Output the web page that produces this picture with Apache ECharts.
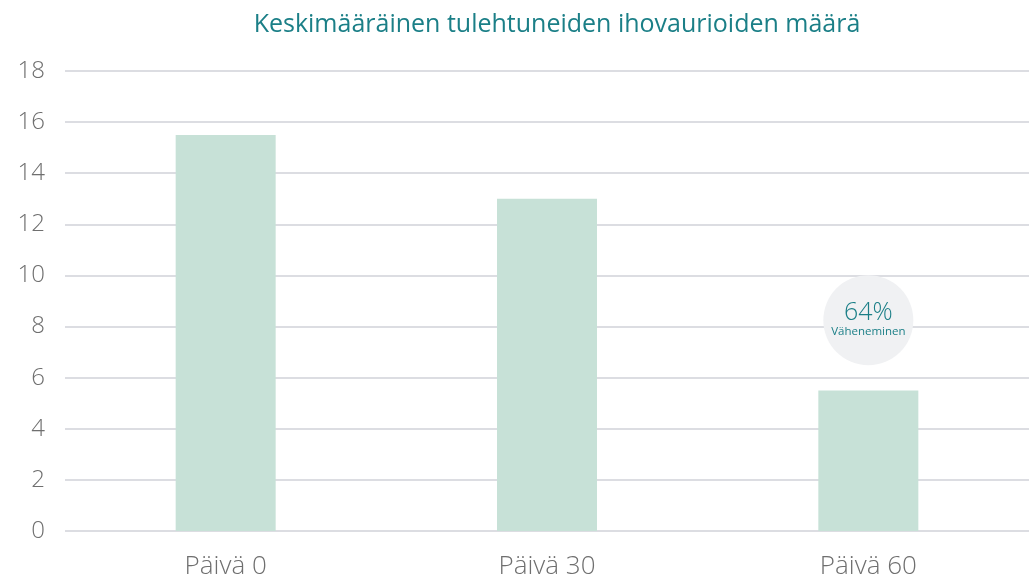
<!DOCTYPE html>
<html>
<head>
<meta charset="utf-8">
<script src="https://cdn.jsdelivr.net/npm/echarts@6/dist/echarts.min.js"></script>
<style>html,body{margin:0;padding:0;background:#fff;}#c{width:1029px;height:583px;}</style>
</head>
<body>
<div id="c"></div>
<script>
const categories = ['Päivä 0', 'Päivä 30', 'Päivä 60'];
const values = [15.5, 13, 5.5];
const yTicks = { min: 0, max: 18, interval: 2 };
const titleText = 'Keskimääräinen tulehtuneiden ihovaurioiden määrä';
const badgeMain = '64%';
const badgeSub = 'Väheneminen';
const badgeY = 8.25;

const chart = echarts.init(document.getElementById('c'), null, { renderer: 'canvas' });
const font = '"Open Sans", "Noto Sans", sans-serif';
chart.setOption({
  animation: false,
  backgroundColor: '#ffffff',
  title: {
    text: titleText,
    left: 552,
    top: 7,
    textAlign: 'center',
    textStyle: { color: '#1b7f87', fontSize: 25, fontWeight: 'normal', fontFamily: font }
  },
  grid: { left: 65, right: 0, top: 71, bottom: 52, containLabel: false },
  xAxis: {
    type: 'category',
    data: categories,
    axisLine: { show: false },
    axisTick: { show: false },
    axisLabel: { color: '#6f6f6f', fontSize: 26, fontFamily: font, fontWeight: 300, margin: 23 }
  },
  yAxis: {
    type: 'value',
    min: yTicks.min, max: yTicks.max, interval: yTicks.interval,
    axisLine: { show: false },
    axisTick: { show: false },
    splitLine: { lineStyle: { color: '#dcdde2', width: 2 } },
    axisLabel: { color: '#6f6f6f', fontSize: 24, fontFamily: font, fontWeight: 300, margin: 20 }
  },
  series: [{
    type: 'bar',
    data: values,
    barWidth: 100,
    itemStyle: { color: '#c7e1d7' },
    markPoint: {
      symbol: 'circle',
      symbolSize: 90,
      itemStyle: { color: '#f0f1f3' },
      data: [{ coord: [categories[2], badgeY] }],
      label: {
        show: true,
        position: 'inside',
        formatter: '{a|' + badgeMain + '}\n{b|' + badgeSub + '}',
        rich: {
          a: { color: '#1b7f87', fontSize: 25, fontFamily: font, fontWeight: 300, lineHeight: 24 },
          b: { color: '#1b7f87', fontSize: 11.5, fontFamily: font, lineHeight: 14 }
        }
      }
    }
  }]
});
</script>
</body>
</html>
